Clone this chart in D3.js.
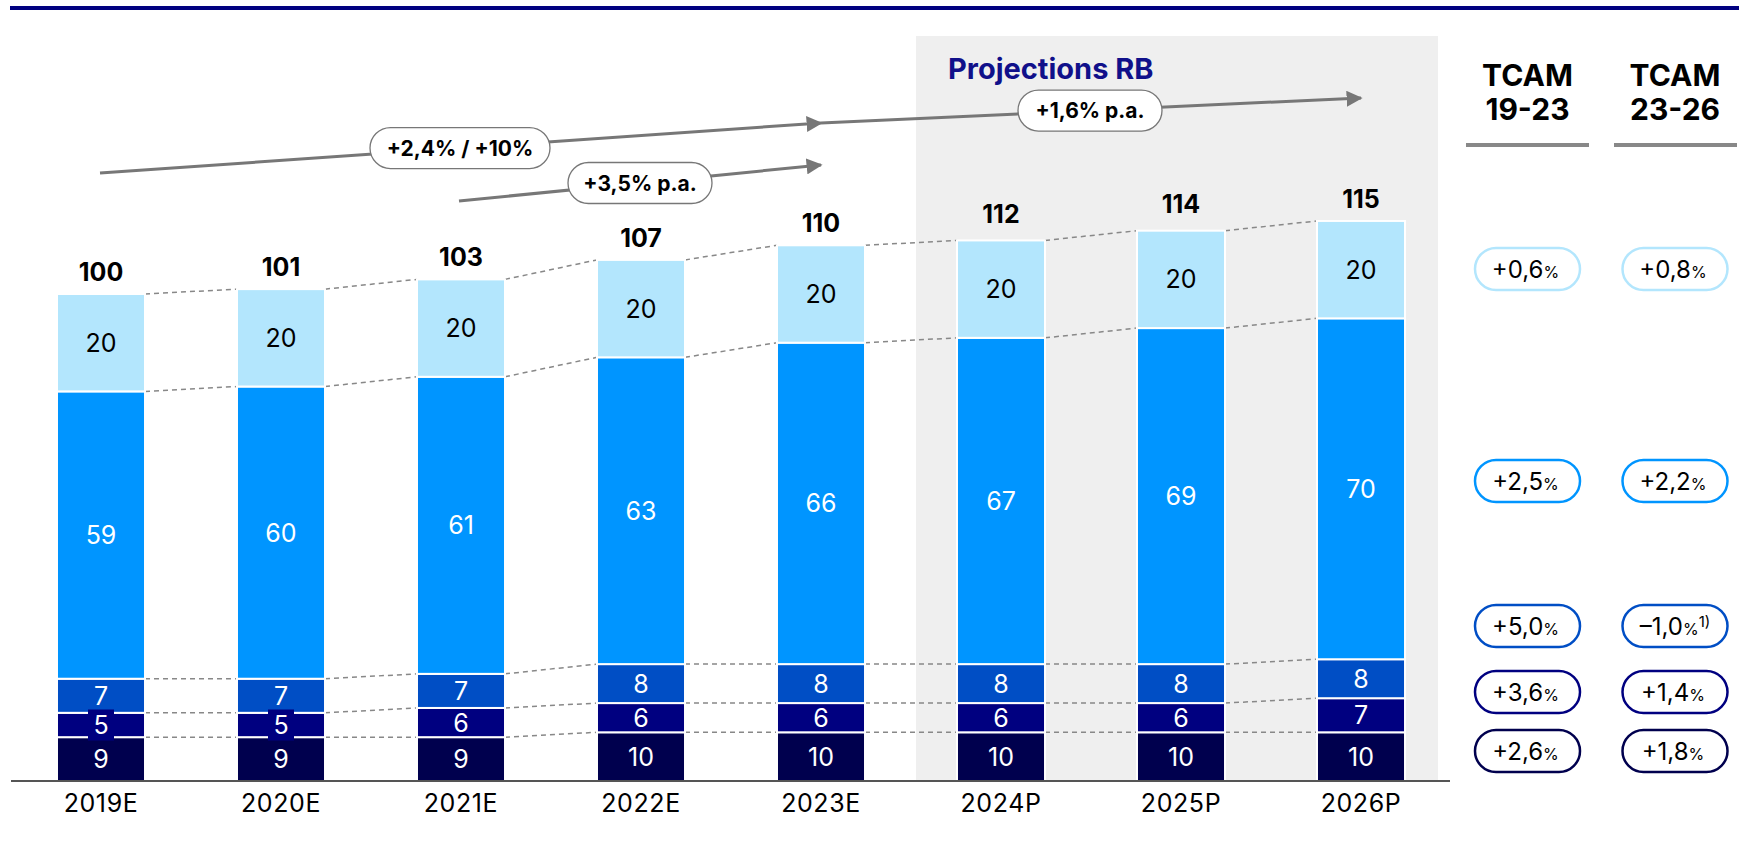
<!DOCTYPE html>
<html>
<head>
<meta charset="utf-8">
<script src="https://cdn.jsdelivr.net/npm/d3@7"></script>
<style>
  html, body { margin: 0; padding: 0; background: #fff; }
  svg { display: block; font-family: Inter, "Noto Sans", sans-serif; }
</style>
</head>
<body>
<svg id="chart" width="1739" height="848"></svg>
<script>
// Years on the x axis
const years = ["2019E", "2020E", "2021E", "2022E", "2023E", "2024P", "2025P", "2026P"];

// Stacked segments, bottom to top
const segA = [9, 9, 9, 10, 10, 10, 10, 10];
const segB = [5, 5, 6, 6, 6, 6, 6, 7];
const segC = [7, 7, 7, 8, 8, 8, 8, 8];
const segD = [59, 60, 61, 63, 66, 67, 69, 70];
const segE = [20, 20, 20, 20, 20, 20, 20, 20];

// Totals printed above each bar
const totals = [100, 101, 103, 107, 110, 112, 114, 115];

// Growth rates per segment (top segment first)
const tcam1923 = ["+0,6", "+2,5", "+5,0", "+3,6", "+2,6"];
const tcam2326 = ["+0,8", "+2,2", "\u20131,0", "+1,4", "+1,8"];
const tcamNotes = ["", "", "1)", "", ""];

// Trend arrow labels
const trendLabels = ["+2,4% / +10%", "+1,6% p.a.", "+3,5% p.a."];

const keys = ["a", "b", "c", "d", "e"];
const colors = { a: "#00004e", b: "#000080", c: "#004ec5", d: "#0095ff", e: "#b3e6fd" };
const textColors = { a: "#fff", b: "#fff", c: "#fff", d: "#fff", e: "#000" };

const rows = years.map((y, i) => ({ year: y, a: segA[i], b: segB[i], c: segC[i], d: segD[i], e: segE[i], total: totals[i] }));

const svg = d3.select("#chart");

const x = d3.scaleBand().domain(years).range([11, 1451]).paddingInner(0.511).paddingOuter(0.2555);
const y = d3.scaleLinear().domain([0, 115]).range([781, 781 - 115 * 4.87]);

// Top rule
svg.append("rect").attr("x", 10).attr("y", 6).attr("width", 1729).attr("height", 4).attr("fill", "#000080");

// Projection panel
const projStart = x("2024P") - 41;
svg.append("rect")
  .attr("x", projStart).attr("y", 36)
  .attr("width", 1438 - projStart).attr("height", y(0) - 36)
  .attr("fill", "#efefef");
svg.append("text")
  .attr("x", projStart + 32).attr("y", 79)
  .attr("font-size", 29).attr("font-weight", 700).attr("fill", "#10108a")
  .text("Projections RB");

const stack = d3.stack().keys(keys)(rows);

// Dashed connectors between neighbouring bars at every segment boundary
const conn = svg.append("g").attr("stroke", "#888").attr("stroke-width", 1.5).attr("stroke-dasharray", "5,4").attr("fill", "none");
stack.forEach(layer => {
  for (let i = 0; i < years.length - 1; i++) {
    conn.append("line")
      .attr("x1", x(years[i]) + x.bandwidth()).attr("y1", y(layer[i][1]))
      .attr("x2", x(years[i + 1])).attr("y2", y(layer[i + 1][1]));
  }
});

// Bars
const layers = svg.append("g").selectAll("g").data(stack).join("g").attr("fill", d => colors[d.key]);
layers.selectAll("rect").data(d => d).join("rect")
  .attr("x", d => x(d.data.year))
  .attr("y", d => y(d[1]))
  .attr("width", x.bandwidth())
  .attr("height", d => y(d[0]) - y(d[1]))
  .attr("stroke", "#fff").attr("stroke-width", 2);

// Segment value labels; thin segments get a chip in the segment colour behind the number
stack.forEach(layer => {
  const g = svg.append("g");
  layer.forEach(d => {
    const cx = x(d.data.year) + x.bandwidth() / 2;
    const cy = (y(d[0]) + y(d[1])) / 2;
    const h = y(d[0]) - y(d[1]);
    const v = d.data[layer.key];
    if (h < 28) {
      g.append("rect").attr("x", cx - 13).attr("y", cy - 15.5).attr("width", 26).attr("height", 31).attr("fill", colors[layer.key]);
    }
    g.append("text")
      .attr("x", cx).attr("y", cy + 9)
      .attr("text-anchor", "middle")
      .attr("font-size", 25).attr("fill", textColors[layer.key])
      .text(v);
  });
});

// Totals
svg.append("g").selectAll("text").data(rows).join("text")
  .attr("x", d => x(d.year) + x.bandwidth() / 2)
  .attr("y", d => y(d.total) - 13)
  .attr("text-anchor", "middle")
  .attr("font-size", 25).attr("font-weight", 700).attr("fill", "#000")
  .text(d => d.total);

// X axis
const xAxis = svg.append("g").attr("transform", `translate(0,${y(0)})`)
  .call(d3.axisBottom(x).tickSize(0).tickPadding(13));
xAxis.select(".domain").remove();
xAxis.append("line").attr("x1", 11).attr("x2", 1450).attr("y1", 0).attr("y2", 0).attr("stroke", "#555").attr("stroke-width", 2);
xAxis.selectAll(".tick text")
  .attr("font-family", "Inter, 'Noto Sans', sans-serif")
  .attr("font-size", 25).attr("fill", "#000").attr("letter-spacing", 0.6);

// Trend arrows
const defs = svg.append("defs");
defs.append("marker").attr("id", "head")
  .attr("viewBox", "0 0 10 10").attr("refX", 9).attr("refY", 5)
  .attr("markerWidth", 16).attr("markerHeight", 16).attr("markerUnits", "userSpaceOnUse")
  .attr("orient", "auto")
  .append("path").attr("d", "M0,0 L10,5 L0,10 Z").attr("fill", "#777");

const arrowA = { x1: 100, y1: 173, x2: x("2023E") + x.bandwidth() / 2, y2: 123 };
const arrowB = { x1: arrowA.x2, y1: arrowA.y2, x2: x("2026P") + x.bandwidth() / 2, y2: 98 };
const arrowC = { x1: x("2021E") + x.bandwidth() / 2 - 2, y1: 201, x2: arrowA.x2, y2: 165 };
const arrows = [arrowA, arrowB, arrowC];

svg.append("g").selectAll("line").data(arrows).join("line")
  .attr("x1", d => d.x1).attr("y1", d => d.y1)
  .attr("x2", d => d.x2).attr("y2", d => d.y2)
  .attr("stroke", "#777").attr("stroke-width", 3)
  .attr("marker-end", "url(#head)");

// Pill labels sitting on the arrows
const pillPos = [
  { cx: 460, w: 180, a: arrowA },
  { cx: 1090, w: 144, a: arrowB },
  { cx: 640, w: 144, a: arrowC }
];
pillPos.forEach((p, i) => {
  const t = (p.cx - p.a.x1) / (p.a.x2 - p.a.x1);
  const cy = p.a.y1 + t * (p.a.y2 - p.a.y1);
  svg.append("rect")
    .attr("x", p.cx - p.w / 2).attr("y", cy - 20.5)
    .attr("width", p.w).attr("height", 41).attr("rx", 20.5)
    .attr("fill", "#fff").attr("stroke", "#777").attr("stroke-width", 1.3);
  svg.append("text")
    .attr("x", p.cx).attr("y", cy + 7.5)
    .attr("text-anchor", "middle")
    .attr("font-size", 21).attr("font-weight", 700).attr("fill", "#000")
    .text(trendLabels[i]);
});

// Growth rate columns
const colX = [1527.5, 1675];
const headers = [["TCAM", "19-23"], ["TCAM", "23-26"]];
headers.forEach((h, c) => {
  const t = svg.append("text").attr("text-anchor", "middle")
    .attr("font-size", 30).attr("font-weight", 700).attr("fill", "#000");
  t.append("tspan").attr("x", colX[c]).attr("y", 86).text(h[0]);
  t.append("tspan").attr("x", colX[c]).attr("y", 120).text(h[1]);
});
svg.append("rect").attr("x", 1466).attr("y", 143).attr("width", 123).attr("height", 4).attr("fill", "#888");
svg.append("rect").attr("x", 1614).attr("y", 143).attr("width", 123).attr("height", 4).attr("fill", "#888");

const rowY = [269, 481, 626, 692, 751];
const rowKeys = ["e", "d", "c", "b", "a"];
[tcam1923, tcam2326].forEach((col, c) => {
  col.forEach((v, r) => {
    svg.append("rect")
      .attr("x", colX[c] - 52.5).attr("y", rowY[r] - 21)
      .attr("width", 105).attr("height", 42).attr("rx", 21)
      .attr("fill", "#fff").attr("stroke", colors[rowKeys[r]]).attr("stroke-width", 2.5);
    const note = c === 1 ? tcamNotes[r] : "";
    const t = svg.append("text")
      .attr("x", colX[c] + (note ? 0 : -2)).attr("y", rowY[r] + 9)
      .attr("text-anchor", "middle").attr("font-size", 24).attr("fill", "#000");
    t.append("tspan").text(v);
    t.append("tspan").attr("font-size", 16).text("%");
    if (note) t.append("tspan").attr("font-size", 15).attr("dy", -8).text(note);
  });
});
</script>
</body>
</html>
